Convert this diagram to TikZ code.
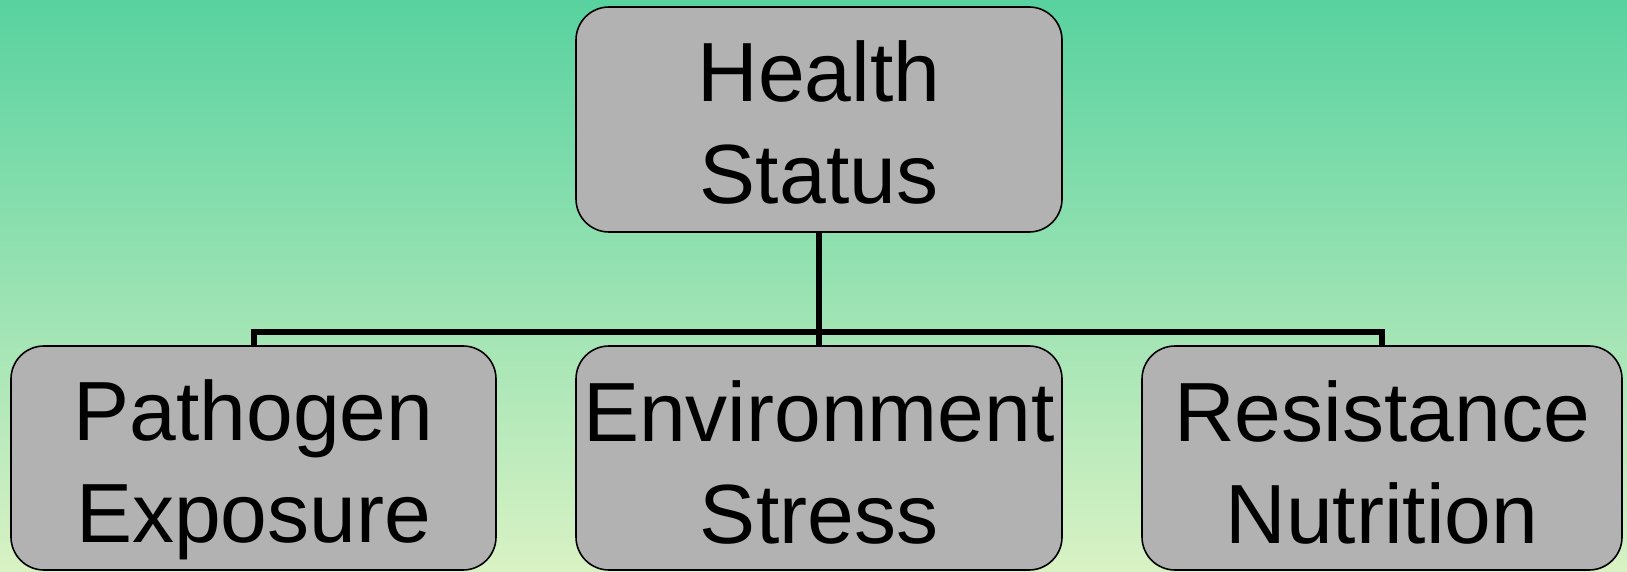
\documentclass[tikz,border=0pt]{standalone}
\usepackage{fontspec}
\setmainfont{Liberation Sans}
\begin{document}
\begin{tikzpicture}[x=1pt,y=1pt,
  card/.style={draw=black, line width=1.6pt, fill=boxgray, rounded corners=33pt,
    inner sep=0pt, minimum height=224pt},
  caption/.style={inner sep=0pt, align=center, font=\fontsize{84}{102}\selectfont},
  link/.style={draw=black, line width=6pt}]
\definecolor{boxgray}{HTML}{B2B2B2}
\definecolor{bgtop}{HTML}{58D2A0}
\definecolor{bgbottom}{HTML}{D9F2C4}
\useasboundingbox (0,0) rectangle (1627,571);
% backdrop
\shade[top color=bgtop, bottom color=bgbottom] (0,0) rectangle (1627,571);
% boxes
\node[card, minimum width=486pt, minimum height=225pt] (health) at (819,451.5) {};
\node[card, minimum width=485pt] (pathogen) at (253.5,113) {};
\node[card, minimum width=486pt] (environment) at (819,113) {};
\node[card, minimum width=480pt] (resistance) at (1382,113) {};
% box texts
\node[caption] (healthtext) at ([yshift=-2.5pt]health.center) {Health\\Status};
\node[caption] (pathogentext) at ([yshift=-12.2pt]pathogen.center) {Pathogen\\Exposure};
\node[caption] (environmenttext) at ([yshift=-4.6pt]environment.center) {Environment\\Stress};
\node[caption] (resistancetext) at ([yshift=-4pt]resistance.center) {Resistance\\Nutrition};
% tree connectors
\coordinate (bus) at (0,239);
\draw[link] (health.south) -- (health.south |- bus);
\draw[link, line join=miter] (pathogen.north) -- (pathogen.north |- bus) -- (resistance.north |- bus) -- (resistance.north);
\draw[link] (environment.north) -- (environment.north |- bus);
\end{tikzpicture}
\end{document}
